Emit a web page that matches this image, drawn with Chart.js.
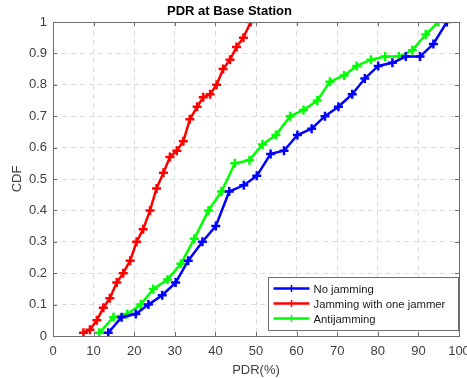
<!DOCTYPE html>
<html>
<head>
<meta charset="utf-8">
<script src="https://cdn.jsdelivr.net/npm/chart.js@4.4.1/dist/chart.umd.min.js"></script>
<style>
  body { margin: 0; background: #fff; }
  #wrap { width: 467px; height: 378px; }
</style>
</head>
<body>
<div id="wrap"><canvas id="pdrChart" width="467" height="378"></canvas></div>
<script>
// PDR (%) values and their CDF for each case
const noJamX = [13.6, 16.9, 20.4, 23.5, 26.9, 30.2, 33.3, 36.8, 40.1, 43.4, 47.0, 50.2, 53.6, 56.9, 60.2, 63.7, 67.0, 70.3, 73.7, 76.8, 80.1, 83.6, 86.9, 90.4, 93.7, 97.0];
const noJamY = [0.01, 0.06, 0.07, 0.10, 0.13, 0.17, 0.24, 0.30, 0.35, 0.46, 0.48, 0.51, 0.58, 0.59, 0.64, 0.66, 0.70, 0.73, 0.77, 0.82, 0.86, 0.87, 0.89, 0.89, 0.93, 1.00];

const jamX = [7.5, 9.1, 10.8, 12.4, 14.0, 15.7, 17.3, 19.0, 20.6, 22.2, 23.9, 25.5, 27.2, 28.8, 30.5, 32.1, 33.7, 35.5, 37.0, 38.7, 40.3, 41.9, 43.6, 45.2, 46.9, 48.7];
const jamY = [0.01, 0.02, 0.05, 0.09, 0.12, 0.17, 0.20, 0.24, 0.30, 0.34, 0.40, 0.47, 0.52, 0.57, 0.59, 0.62, 0.69, 0.73, 0.76, 0.77, 0.80, 0.85, 0.88, 0.92, 0.95, 1.00];

const antiX = [11.4, 14.9, 18.3, 21.6, 24.7, 28.2, 31.5, 34.8, 38.3, 41.5, 44.8, 48.4, 51.6, 54.9, 58.4, 61.7, 65.1, 68.2, 71.7, 74.8, 78.3, 81.8, 85.2, 88.5, 91.8, 94.9];
const antiY = [0.01, 0.06, 0.07, 0.10, 0.15, 0.18, 0.23, 0.31, 0.40, 0.46, 0.55, 0.56, 0.61, 0.64, 0.70, 0.72, 0.75, 0.81, 0.83, 0.86, 0.88, 0.89, 0.89, 0.91, 0.96, 1.00];

const seriesLabels = ['No jamming', 'Jamming with one jammer', 'Antijamming'];
const seriesColors = ['#0000ff', '#ff0000', '#00ff00'];

const xTicks = [0, 10, 20, 30, 40, 50, 60, 70, 80, 90, 100];
const yTicks = [0, 0.1, 0.2, 0.3, 0.4, 0.5, 0.6, 0.7, 0.8, 0.9, 1];

const FONT = '"Liberation Sans", Arial, Helvetica, sans-serif';
const TEXT = '#404040';
const AXIS = '#6e6e6e';

function toPoints(xs, ys) {
    return xs.map((x, i) => ({ x: x, y: ys[i] }));
}

function makeSet(idx, xs, ys) {
    return {
        label: seriesLabels[idx],
        data: toPoints(xs, ys),
        showLine: true,
        borderColor: seriesColors[idx],
        backgroundColor: seriesColors[idx],
        borderWidth: 2.5,
        pointStyle: 'cross',
        pointRadius: 4.5,
        pointBorderWidth: 2.5,
        pointHoverRadius: 4.5
    };
}

// box around the axes with inward tick marks, like the original figure
const boxPlugin = {
    id: 'axesBox',
    afterDatasetsDraw(chart) {
        const { ctx, chartArea: a, scales } = chart;
        ctx.save();
        ctx.strokeStyle = AXIS;
        ctx.lineWidth = 1;
        ctx.beginPath();
        scales.x.ticks.forEach(t => {
            const px = Math.round(scales.x.getPixelForValue(t.value)) + 0.5;
            ctx.moveTo(px, a.bottom); ctx.lineTo(px, a.bottom - 4);
            ctx.moveTo(px, a.top); ctx.lineTo(px, a.top + 4);
        });
        scales.y.ticks.forEach(t => {
            const py = Math.round(scales.y.getPixelForValue(t.value)) + 0.5;
            ctx.moveTo(a.left, py); ctx.lineTo(a.left + 4, py);
            ctx.moveTo(a.right, py); ctx.lineTo(a.right - 4, py);
        });
        ctx.stroke();
        ctx.strokeRect(Math.round(a.left) + 0.5, Math.round(a.top) + 0.5,
            Math.round(a.right - a.left), Math.round(a.bottom - a.top));
        ctx.restore();
    }
};

// legend box in the lower right corner of the axes
const legendPlugin = {
    id: 'boxLegend',
    afterDraw(chart) {
        const { ctx, chartArea: a } = chart;
        const w = 190, h = 53;
        const x0 = Math.round(a.right) - w - 0.5, y0 = Math.round(a.bottom) - 6 - h + 0.5;
        ctx.save();
        ctx.fillStyle = '#fff';
        ctx.fillRect(x0, y0, w, h);
        ctx.strokeStyle = AXIS;
        ctx.lineWidth = 1;
        ctx.strokeRect(x0, y0, w, h);
        ctx.font = '11.3px ' + FONT;
        ctx.textBaseline = 'middle';
        chart.data.datasets.forEach((ds, i) => {
            const y = y0 + 11 + i * 15;
            ctx.strokeStyle = ds.borderColor;
            ctx.lineWidth = 2.5;
            ctx.beginPath();
            ctx.moveTo(x0 + 5, y); ctx.lineTo(x0 + 41, y);
            ctx.stroke();
            ctx.lineWidth = 1.5;
            ctx.beginPath();
            ctx.moveTo(x0 + 23, y - 3.5); ctx.lineTo(x0 + 23, y + 3.5);
            ctx.stroke();
            ctx.fillStyle = '#1a1a1a';
            ctx.fillText(ds.label, x0 + 45, y + 1);
        });
        ctx.restore();
    }
};

const ctx = document.getElementById('pdrChart').getContext('2d');
new Chart(ctx, {
    type: 'scatter',
    data: {
        datasets: [
            makeSet(0, noJamX, noJamY),
            makeSet(1, jamX, jamY),
            makeSet(2, antiX, antiY)
        ]
    },
    options: {
        responsive: false,
        animation: false,
        layout: { padding: { left: 0, right: 8, top: 0, bottom: 0 } },
        plugins: {
            legend: { display: false },
            tooltip: { enabled: false },
            title: {
                display: true,
                text: 'PDR at Base Station',
                color: '#000',
                font: { family: FONT, size: 13, weight: 'bold' },
                padding: { top: 4, bottom: 2.4 }
            }
        },
        scales: {
            x: {
                type: 'linear',
                min: 0,
                max: 100,
                afterBuildTicks: s => { s.ticks = xTicks.map(v => ({ value: v })); },
                afterFit: s => { s.height = 42; s.paddingRight = 0; s.paddingLeft = 0; },
                ticks: { color: TEXT, font: { family: FONT, size: 13 }, padding: 8, maxRotation: 0 },
                grid: { color: '#dcdcdc', tickLength: 0, drawTicks: false },
                border: { display: false, dash: [5, 4] },
                title: {
                    display: true,
                    text: 'PDR(%)',
                    color: TEXT,
                    font: { family: FONT, size: 13 },
                    padding: { top: 2, bottom: 0 }
                }
            },
            y: {
                type: 'linear',
                min: 0,
                max: 1,
                afterBuildTicks: s => { s.ticks = yTicks.map(v => ({ value: v })); },
                afterFit: s => { s.width = 53; },
                ticks: {
                    color: TEXT,
                    font: { family: FONT, size: 13 },
                    padding: 6,
                    callback: v => String(Math.round(v * 10) / 10)
                },
                grid: { color: '#dcdcdc', tickLength: 0, drawTicks: false },
                border: { display: false, dash: [5, 4] },
                title: {
                    display: true,
                    text: 'CDF',
                    color: TEXT,
                    font: { family: FONT, size: 13 },
                    padding: { top: 10, bottom: 0 }
                }
            }
        }
    },
    plugins: [boxPlugin, legendPlugin]
});
</script>
</body>
</html>
